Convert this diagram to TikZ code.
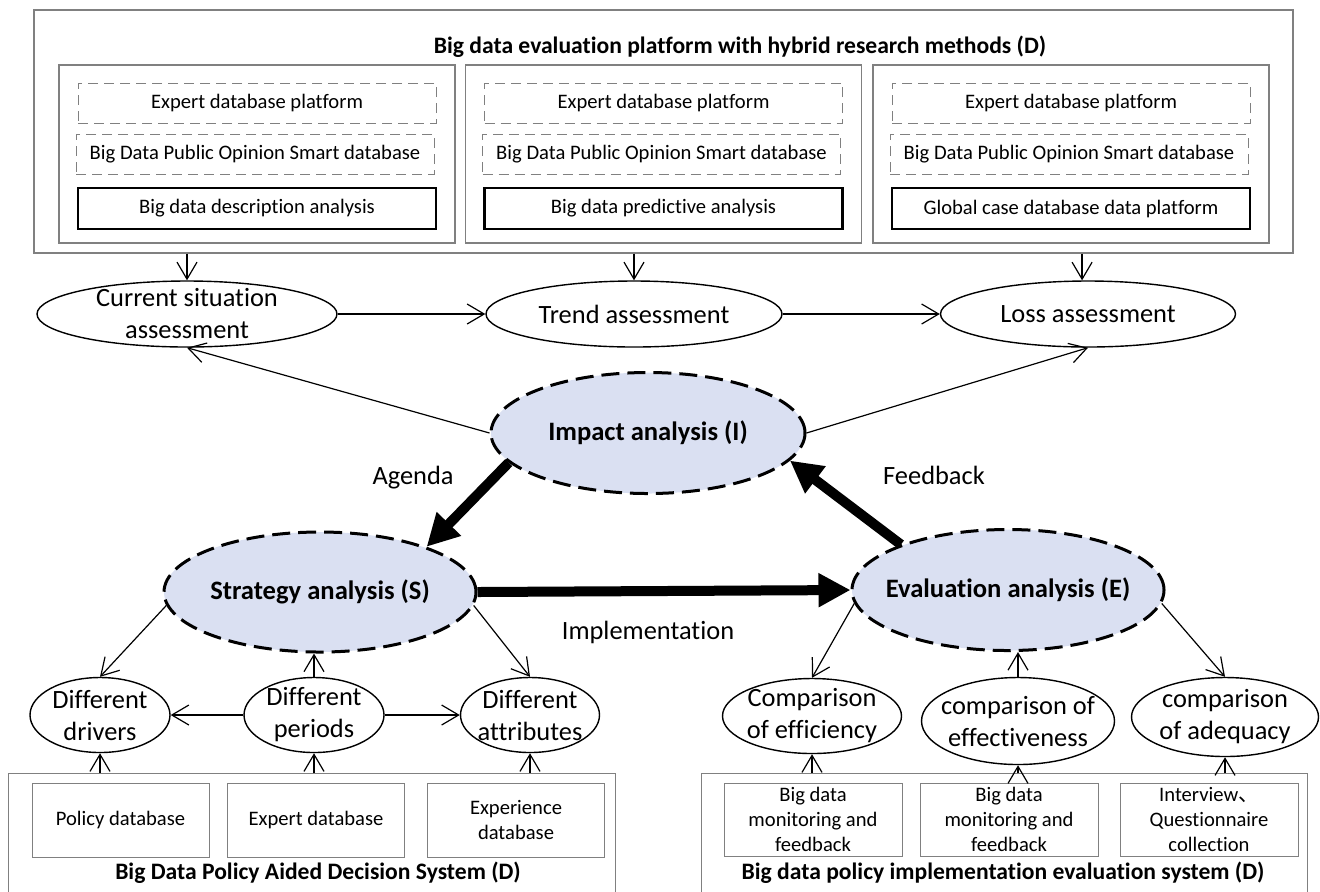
\documentclass[tikz,border=0pt]{standalone}
\usepackage{fontspec}
\setmainfont{Carlito}[Ligatures={NoCommon,NoContextual},Contextuals=NoAlternate]
\newfontfamily\cjk{Noto Sans CJK SC}
\usetikzlibrary{arrows.meta,shapes.geometric}
\definecolor{lav}{RGB}{218,224,242}
\definecolor{frame}{RGB}{128,128,128}

\begin{document}
\begin{tikzpicture}[x=0.5pt,y=-0.5pt,
   every node/.style={align=center,draw,inner sep=0pt},
   sm/.style={font=\fontsize{10.3}{12.5}\selectfont},
   big/.style={font=\fontsize{13.2}{16}\selectfont},
   hd/.style={draw=none,font=\fontsize{11.8}{14}\selectfont\bfseries},
   grp/.style={draw=frame,line width=0.6pt},
   db/.style={sm,draw=frame,dash pattern=on 5pt off 3pt,minimum width=179pt,minimum height=20pt},
   ov/.style={ellipse,big,line width=0.7pt,inner sep=-25pt},
   core/.style={ellipse,inner sep=-25pt,font=\fontsize{13.3}{16}\selectfont\bfseries,fill=lav,
                line width=1.5pt,dash pattern=on 9pt off 4pt,minimum width=157pt,minimum height=60.5pt},
   ar/.style={-{Straight Barb[length=8.5pt,width=10pt]},line width=0.6pt},
   fat/.style={-{Triangle[length=16pt,width=16pt]},line width=5pt},
   ]
\useasboundingbox (0,0) rectangle (1320,891);
\clip (0,0) rectangle (1320,891);

\node[grp,minimum width=629.5pt,minimum height=121.5pt] (o) at (663.5,131.5) {};
\node[hd] (t) at (740,47) {Big data evaluation platform with hybrid research methods (D)};
\foreach \x/\n/\t in {257/1/Big data description analysis,663.5/2/Big data predictive analysis,1071/3/Global case database data platform}
{
   \node[grp,minimum width=198pt,minimum height=89pt] (g\n) at (\x,154) {};
   \node[db] (e\n) at (\x,103) {Expert database platform};
   \node[db] (p\n) at (\x-2,154) {Big Data Public Opinion Smart database};
   \node[sm,line width=1.3pt,minimum width=179pt,minimum height=20.5pt] (k\n) at (\x,208.5) {\t};
}

\node[ov,minimum width=150pt,minimum height=33pt] (c) at (187,314) {Current situation\\assessment};
\node[ov,minimum width=148pt,minimum height=33pt] (r) at (634,314) {Trend assessment};
\node[ov,minimum width=147.5pt,minimum height=33pt] (l) at (1088,314) {Loss assessment};

\node[core] (i) at (648,433) {Impact analysis (I)};
\node[core,minimum width=156pt,minimum height=60pt] (s) at (320,592) {Strategy analysis (S)};
\node[core,minimum width=156pt] (v) at (1008,590) {Evaluation analysis (E)};

\node[big,draw=none] (ag) at (413,478) {Agenda};
\node[big,draw=none] (fb) at (934,475) {Feedback};
\node[big,draw=none] (im) at (648,632) {Implementation};

\node[ov,minimum width=70pt,minimum height=37.5pt] (d) at (100,715) {Different\\drivers};
\node[ov,minimum width=70pt,minimum height=37.5pt] (pe) at (314,715) {Different\\periods};
\node[ov,minimum width=69.5pt,minimum height=37.5pt] (a) at (530,715) {Different\\attributes};
\node[ov,minimum width=89.5pt,minimum height=37.5pt] (f) at (812,716) {Comparison\\of efficiency};
\node[ov,minimum width=96.5pt,minimum height=43.5pt] (fe) at (1018,721) {comparison of\\effectiveness};
\node[ov,minimum width=93.5pt,minimum height=39.5pt] (q) at (1225,717) {comparison\\of adequacy};

\node[grp,minimum width=303.5pt,minimum height=70pt,anchor=north west] (bl) at (8,773) {};
\node[grp,minimum width=303pt,minimum height=70pt,anchor=north west] (br) at (701,773) {};
\foreach \x/\n/\t in {120.5/1/Policy database,316/2/Expert database,516/3/Experience\\database}
   \node[sm,draw=frame,minimum width=88.5pt,minimum height=37pt] (x\n) at (\x,820) {\t};
\foreach \x/\n/\t in {813/1/Big data\\monitoring and\\feedback,1009/2/Big data\\monitoring and\\feedback,1209/3/Interview{\cjk 、}\\Questionnaire\\collection}
   \node[sm,draw=frame,minimum width=89pt,minimum height=36.5pt] (y\n) at (\x,819.5) {\t};
\node[hd] (lt) at (318,873) {Big Data Policy Aided Decision System (D)};
\node[hd] (rt) at (1003,873) {Big data policy implementation evaluation system (D)};

\draw[ar] (o.south -| c.north) -- (c.north);
\draw[ar] (o.south -| r.north) -- (r.north);
\draw[ar] (o.south -| l.100) -- (l.100);
\draw[ar] (c) -- (r);
\draw[ar] (r) -- (l);
\draw[ar] (i.west) -- (c.south);
\draw[ar] (i.east) -- (l.south);

\draw[fat] (i.192) -- (s.23);
\draw[fat] (v.157) -- (i.-11);
\draw[fat] (s.east) -- (v.west);

\draw[ar] (s.185) -- (d.north);
\draw[ar] (pe.north) -- (pe.north |- s.south);
\draw[ar] (s.-5) -- (a.north);
\draw[ar] (pe) -- (d);
\draw[ar] (pe) -- (a);
\draw[ar] (bl.north -| d.south) -- (d.south);
\draw[ar] (bl.north -| pe.south) -- (pe.south);
\draw[ar] (bl.north -| a.south) -- (a.south);

\draw[ar] (v.185) -- (f.north);
\draw[ar] (fe.north) -- (fe.north |- v.south);
\draw[ar] (v.-5) -- (q.north);
\draw[ar] (br.north -| f.south) -- (f.south);
\draw[ar] (br.north -| fe.south) -- (fe.south);
\draw[ar] (br.north -| q.south) -- (q.south);
\end{tikzpicture}
\end{document}
